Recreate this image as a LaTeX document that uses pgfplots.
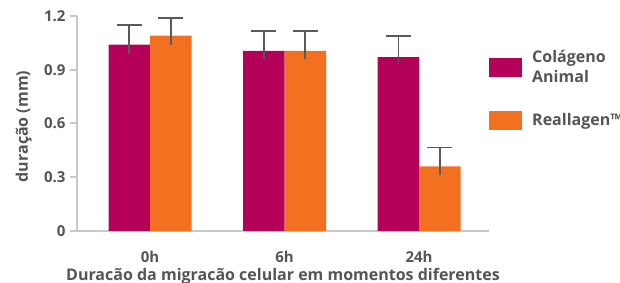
\documentclass[border=0pt]{standalone}
\usepackage{fontspec}
\setmainfont{Open Sans}
\usepackage{pgfplots}
\pgfplotsset{compat=1.18}
\definecolor{mag}{HTML}{B5005A}
\definecolor{ora}{HTML}{F37021}
\definecolor{txt}{HTML}{555555}
\definecolor{axg}{HTML}{C8C8C8}
\definecolor{err}{HTML}{5A5A5A}
\begin{document}
\begin{tikzpicture}
\begin{axis}[
  at={(77bp,52bp)}, anchor=south west,
  scale only axis, width=412bp, height=215bp,
  xmin=-0.543, xmax=2.52, ymin=0, ymax=1.2,
  axis lines*=left,
  axis line style={axg, line width=2bp},
  xtick={0,1,2}, xticklabels={0h,6h,24h},
  ytick={0,0.3,0.6,0.9,1.2},
  yticklabels={0,0.3,0.6,0.9,1.2},
  major x tick style={draw=none},
  major y tick style={axg, line width=2bp},
  tick align=outside, major tick length=7bp,
  tick label style={font=\fontsize{15bp}{17bp}\selectfont\bfseries, text=txt},
  /pgf/number format/assume math mode=true,
  xticklabel style={anchor=center, yshift=-19bp},
  yticklabel style={xshift=-1bp},
  xlabel={Duracão da migracão celular em momentos diferentes},
  ylabel={duração (mm)},
  label style={font=\fontsize{16bp}{18bp}\selectfont\bfseries, text=txt},
  xlabel style={at={(axis description cs:0.5,0)}, anchor=base, yshift=-49bp},
  ylabel style={at={(axis description cs:0,0.5)}, anchor=base, yshift=49bp, xshift=-3bp},
  ybar=0pt, bar width=41.5bp,
  legend style={at={(rel axis cs:1,1)}, anchor=north west, xshift=-3bp, yshift=-32bp,
    draw=none, fill=none, font=\fontsize{16bp}{20bp}\selectfont\bfseries, text=txt,
    nodes={align=left, inner sep=0pt}, row sep=27bp, column sep=10bp},
  legend cell align=left,
  legend image code/.code={\fill[#1] (0bp,-9.5bp) rectangle (33bp,9.5bp);},
  error bars/error bar style={err, line width=1.6bp},
]
\addplot+[fill=mag, draw=none, bar shift=-20.75bp,
  error bars/.cd, y dir=plus, y explicit,
  error mark options={rotate=90, mark size=12.5bp, err, line width=1.6bp}]
  coordinates {(0,1.04) +- (0,0.11) (1,1.005) +- (0,0.11) (2,0.97) +- (0,0.12)};
\addlegendentry{Colágeno\\Animal}
\addplot+[fill=ora, draw=none, bar shift=20.75bp,
  error bars/.cd, y dir=plus, y explicit,
  error mark options={rotate=90, mark size=12.5bp, err, line width=1.6bp}]
  coordinates {(0,1.09) +- (0,0.10) (1,1.005) +- (0,0.11) (2,0.36) +- (0,0.105)};
\addlegendentry{Reallagen™}
\addplot+[forget plot, draw=none, fill=none, bar shift=-20.75bp,
  error bars/.cd, y dir=minus, y explicit, error mark=none]
  coordinates {(0,1.04) +- (0,0.05) (1,1.005) +- (0,0.045) (2,0.97) +- (0,0.04)};
\addplot+[forget plot, draw=none, fill=none, bar shift=20.75bp,
  error bars/.cd, y dir=minus, y explicit, error mark=none]
  coordinates {(0,1.09) +- (0,0.05) (1,1.005) +- (0,0.045) (2,0.36) +- (0,0.05)};
\end{axis}
\pgfresetboundingbox
\path (0,0) rectangle (620bp,283bp);
\end{tikzpicture}
\end{document}
